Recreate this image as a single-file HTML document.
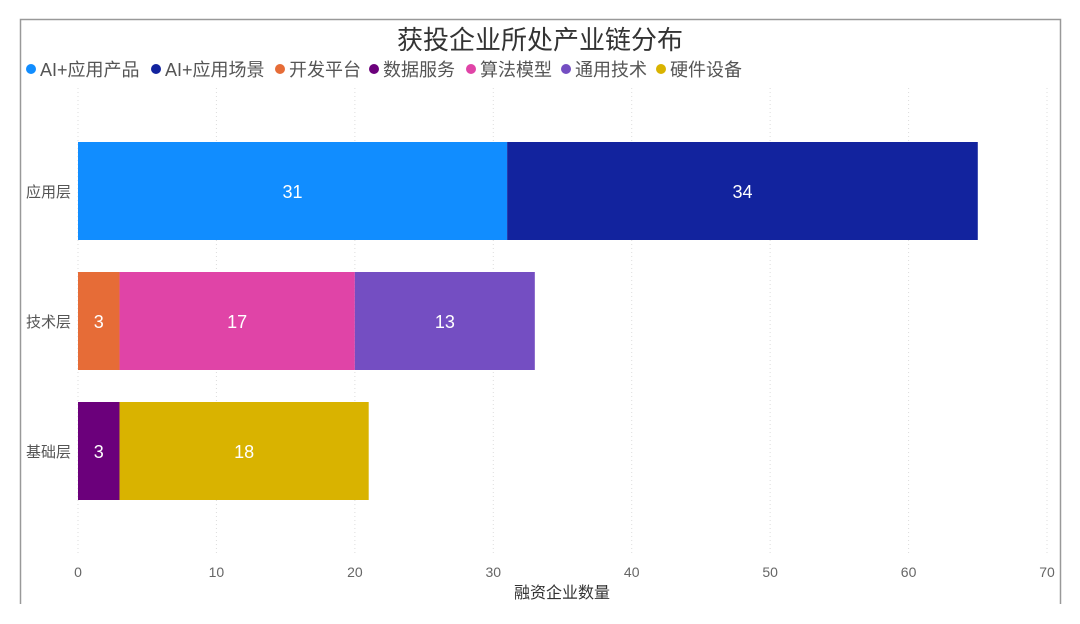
<!DOCTYPE html>
<html><head><meta charset="utf-8"><style>
body{margin:0;background:#fff;}
svg{display:block;font-family:"Liberation Sans","Noto Sans CJK SC",sans-serif;}
</style></head><body>
<svg id="chart" width="1080" height="624">
<path d="M20.5 604 V19.5 H1060.5 V604" fill="none" stroke="#999" stroke-width="1.5"/>
<text x="540" y="49" text-anchor="middle" font-size="26" fill="#333">获投企业所处产业链分布</text>
<g id="legend"></g>
<g id="grid"></g>
<g id="bars"></g>
<g id="xaxis"></g>
<g id="yaxis"></g>
<text x="562" y="598" text-anchor="middle" font-size="16" fill="#333">融资企业数量</text>
</svg>
<script>
const categories = ["应用层","技术层","基础层"];
const seriesNames = ["AI+应用产品","AI+应用场景","开发平台","数据服务","算法模型","通用技术","硬件设备"];
const seriesColors = ["#118DFF","#12239E","#E66C37","#6B007B","#E044A7","#744EC2","#D9B300"];
const seriesCategory = [0,0,1,2,1,1,2];
const seriesValues = [31,34,3,3,17,13,18];
const xTicks = [0,10,20,30,40,50,60,70];
const legendX = [31,156,280,374,471,566,661];

const NS="http://www.w3.org/2000/svg";
const x0=78,x1=1047,xMax=70;
const xs=v=>x0+(v/xMax)*(x1-x0);
const bandTop=142,bandStep=130,barH=98;
const ys=i=>bandTop+i*bandStep;
function mk(tag,attrs,parent,txt){const e=document.createElementNS(NS,tag);for(const k in attrs)e.setAttribute(k,attrs[k]);if(txt!==undefined)e.textContent=txt;parent.appendChild(e);return e;}

const legend=document.getElementById('legend');
seriesNames.forEach((n,i)=>{
  const c=mk('circle',{cx:legendX[i],cy:69,r:5,fill:seriesColors[i]},legend);
  
  
  const t=mk('text',{x:legendX[i]+9,y:76,'font-size':18,fill:'#555'},legend,n);
  
  
});

const grid=document.getElementById('grid'),xa=document.getElementById('xaxis');
xTicks.forEach(v=>{
  const l=mk('line',{x1:xs(v),x2:xs(v),y1:88,y2:556,stroke:'#ddd','stroke-dasharray':'1,3'},grid);
  
  
  const t=mk('text',{x:xs(v),y:577,'text-anchor':'middle','font-size':14,fill:'#666'},xa,String(v));
  
  
});

const ya=document.getElementById('yaxis');
categories.forEach((c,i)=>{
  const t=mk('text',{x:71,y:ys(i)+barH/2+6,'text-anchor':'end','font-size':15,fill:'#555'},ya,c);
  
  
});

const bars=document.getElementById('bars');
const acc=categories.map(()=>0);
seriesValues.forEach((v,i)=>{
  const ci=seriesCategory[i];
  const a=acc[ci];
  const r=mk('rect',{x:xs(a),y:ys(ci),width:xs(a+v)-xs(a),height:barH,fill:seriesColors[i]},bars);
  
  
  const t=mk('text',{x:(xs(a)+xs(a+v))/2,y:ys(ci)+barH/2+7,'text-anchor':'middle','font-size':18,fill:'#fff'},bars,String(v));
  
  
  acc[ci]+=v;
});
</script>
</body></html>
